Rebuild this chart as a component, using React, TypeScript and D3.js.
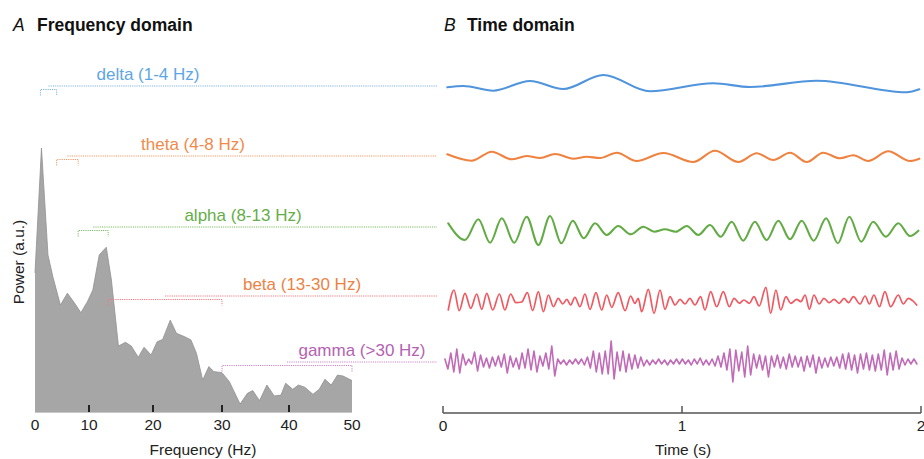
import React from "react";
import * as d3 from "d3";

// ---------- DATA ----------
const freqTicks = [0, 10, 20, 30, 40, 50];
const timeTicks = [0, 1, 2];

const spectrumFreq = [0, 1.2, 2.4, 3.3, 4.7, 6.0, 7.35, 8.5, 9.7, 10.6, 11.6, 12.7, 13.5, 14.6, 15.7, 16.6, 17.7, 18.6, 19.7, 20.6, 21.4, 22.5, 23.4, 24.6, 25.5, 26.3, 27.2, 28.1, 28.8, 30, 31.1, 32.7, 33.8, 34.6, 35.6, 36.7, 37.8, 38.8, 39.5, 40.6, 41.5, 42.5, 43.8, 44.8, 45.7, 46.7, 47.7, 48.6, 50];
const spectrumPower = [52.7, 100, 59.5, 51.3, 40.5, 45, 41.2, 37.6, 41.8, 46.2, 59.5, 62.4, 50, 25, 26.4, 25, 20.7, 24.5, 21.6, 26.6, 27.5, 34.8, 29.8, 28.5, 27.3, 22.2, 12.1, 17.2, 15.3, 14.9, 11.5, 3, 7.1, 8.1, 4.3, 10.2, 6.1, 6.4, 10.9, 8.6, 10.2, 9.4, 6.7, 8.6, 12.4, 10.2, 14, 13.6, 11.9];

const bandNames = ["delta", "theta", "alpha", "beta", "gamma"];
const bandLabels = ["delta (1-4 Hz)", "theta (4-8 Hz)", "alpha (8-13 Hz)", "beta (13-30 Hz)", "gamma (>30 Hz)"];
const bandLow = [1, 4, 8, 13, 30];
const bandHigh = [4, 8, 13, 30, 50];

const deltaT = [0.018, 0.085, 0.21, 0.364, 0.503, 0.671, 0.866, 1.131, 1.285, 1.564, 1.94, 1.993];
const deltaV = [-0.3, 1, -3.7, 6, -2, 12, -4.3, 3.7, 0, 6.3, -5.3, -2.3];

const thetaT = [0.018, 0.12, 0.204, 0.287, 0.35, 0.406, 0.469, 0.545, 0.601, 0.657, 0.727, 0.81, 0.922, 1.047, 1.138, 1.236, 1.313, 1.382, 1.452, 1.522, 1.591, 1.661, 1.717, 1.779, 1.863, 1.954, 1.993];
const thetaV = [1.7, -4.7, 4.3, -3.3, 0, -2, 2, -2.7, -0.7, -2, 3.3, -5, 3, -6, 5.3, -6, 2.7, -4, 3.3, -6, 3.3, -2.3, 0.7, -5, 4.7, -5, -2.7];

const alphaT = [0.022, 0.092, 0.148, 0.197, 0.246, 0.298, 0.35, 0.399, 0.448, 0.495, 0.543, 0.589, 0.636, 0.685, 0.733, 0.786, 0.838, 0.884, 0.929, 0.974, 1.02, 1.068, 1.117, 1.162, 1.208, 1.256, 1.305, 1.354, 1.403, 1.452, 1.501, 1.551, 1.603, 1.652, 1.7, 1.75, 1.8, 1.853, 1.905, 1.954, 1.989];
const alphaV = [6.7, -10, 10.7, -12.7, 11.7, -12.7, 13.3, -15, 14, -13.3, 9.3, -8.3, 6.7, -5, 4, -4.3, 3.3, -1.7, 0.7, -1.7, 4, -5, 5, -6.7, 8.3, -10.7, 8.3, -10, 9.3, -9.3, 9.3, -10.7, 11.7, -13.3, 13.3, -11.7, 8.3, -6.7, 6.7, -6, -0.7];

const betaT = [0.022, 0.046, 0.068, 0.092, 0.116, 0.141, 0.162, 0.183, 0.208, 0.236, 0.259, 0.283, 0.305, 0.329, 0.353, 0.375, 0.399, 0.42, 0.441, 0.462, 0.482, 0.501, 0.518, 0.534, 0.552, 0.573, 0.594, 0.615, 0.64, 0.664, 0.685, 0.706, 0.733, 0.762, 0.785, 0.803, 0.817, 0.831, 0.859, 0.883, 0.908, 0.929, 0.95, 0.971, 0.992, 1.013, 1.033, 1.054, 1.078, 1.096, 1.12, 1.145, 1.173, 1.198, 1.218, 1.24, 1.259, 1.282, 1.301, 1.323, 1.351, 1.371, 1.393, 1.413, 1.435, 1.455, 1.48, 1.497, 1.515, 1.533, 1.552, 1.574, 1.594, 1.616, 1.636, 1.658, 1.678, 1.697, 1.717, 1.745, 1.766, 1.784, 1.803, 1.826, 1.849, 1.873, 1.905, 1.926, 1.947, 1.965, 1.982];
const betaV = [-10, 10, -10.7, 6.7, -8.3, 6, -9.3, 6.7, -10, 6, -10, 6, -2.7, -2, 7.3, -10.7, 8.3, -11.7, 5, -6.7, 1.7, -4, 0.7, -5, 2.7, -6.7, 6, -9.3, 7.3, -10, 5, -7.3, 7.3, -10.7, 4, -3.3, 1.7, -11.7, 10.7, -13.3, 10, -9.3, 3.3, -5, 0.7, -4, 1.7, -5, 3.3, -10, 8.3, -6.7, 8.3, -6.7, 1.7, -3.3, 0, -3.3, 3.3, -6, 12.7, -13.3, 10, -10, 3.3, -3.3, 0.7, -1.7, 5, -9.3, 5, -4, 1.7, -2.7, 0.7, -3.3, 1.7, -2.7, 3.3, -4, 4, -4, 5, -6.7, 8.3, -6.7, 5, -4, 1.7, -0.7, -5];

// gamma: extrema sampled at a fixed interval starting at gammaT0
const gammaT0 = 0.008;
const gammaDt = 0.01242;
const gammaV = [
  3, -7, 9, -10, 13, -11, 8, -3, 3, -2,
  10, -9, 7, -5, 4, -6, 5, -4, 6, -5,
  8, -11, 6, -5, 4, -7, 9, -6, 13, -8,
  11, -10, 6, -4, 9, -7, 16, -14, 3, -2,
  2, -3, 2, -2, 3, -2, 3, -3, 5, -6,
  11, -10, 9, -12, 11, -12, 21, -17, 10, -9,
  11, -10, 8, -7, 7, -6, 5, -4, 2, -3,
  2, -2, 3, -2, 2, -3, 2, -2, 3, -2,
  3, -2, 2, -3, 3, -2, 4, -3, 2, -3,
  3, -4, 6, -5, 9, -8, 13, -20, 12, -9,
  10, -15, 16, -13, 8, -6, 7, -8, 6, -15,
  6, -5, 7, -6, 5, -7, 8, -5, 6, -5,
  5, -9, 6, -5, 7, -11, 5, -6, 4, -5,
  5, -4, 5, -6, 8, -7, 9, -8, 7, -11,
  8, -7, 9, -8, 7, -9, 8, -8, 12, -13,
  9, -8, 11, -7, 4, -3, 3, -2, 3, -2,
];

// ---------- STYLE / LAYOUT ----------
const W = 924;
const H = 459;
const FONT = "'Liberation Sans', Arial, Helvetica, sans-serif";
const signalColors = ["#4f94dc", "#f0823f", "#62ab45", "#ef5a62", "#c06ab8"];
const labelColors = ["#5ea6e3", "#f08a4a", "#66ad4a", "#ec8244", "#b462b2"];
const dotColors = ["#7fb3e3", "#f29a66", "#7dbb63", "#f27a80", "#cc86c6"];
const rowLineY = [86, 156, 227, 296, 362];
const rowSignalY = [87, 156, 230, 300, 362];
const labelX = [148, 193, 243, 302, 362];
const signalWidths = [2.1, 2.1, 2.1, 1.7, 1.6];

export default function App() {
  const x = d3.scaleLinear().domain(freqTicks).range([35, 89, 153, 222, 289, 352]);
  const y = d3.scaleLinear().domain([0, 100]).range([412, 148]);
  const t = d3.scaleLinear().domain([0, 2]).range([443, 921]);

  const spec = spectrumFreq.map((f, i) => [f, spectrumPower[i]] as [number, number]);
  const area = d3
    .area<[number, number]>()
    .x((d) => x(d[0]))
    .y0(y(0))
    .y1((d) => y(d[1]));
  const topLine = d3
    .line<[number, number]>()
    .x((d) => x(d[0]))
    .y((d) => y(d[1]));

  const gammaT = gammaV.map((_, i) => gammaT0 + i * gammaDt);
  const series: [number[], number[]][] = [
    [deltaT, deltaV],
    [thetaT, thetaV],
    [alphaT, alphaV],
    [betaT, betaV],
    [gammaT, gammaV],
  ];

  const paths = series.map(([ts, vs], i) => {
    const c = rowSignalY[i];
    const ys = d3.scaleLinear().domain([-20, 20]).range([c + 20, c - 20]);
    const gen = d3
      .line<number>()
      .x((_, k) => t(ts[k]))
      .y((v) => ys(v))
      .curve(i === 4 ? d3.curveLinear : d3.curveMonotoneX);
    return gen(vs) || "";
  });

  const lineEndX = 437;

  return (
    <svg
      width={W}
      height={H}
      style={{ position: "absolute", left: 0, top: 0, background: "#fff" }}
      fontFamily={FONT}
    >
      {/* titles */}
      <text x={13} y={31} fontSize={17.5} fontStyle="italic" fill="#111">A</text>
      <text x={37} y={31} fontSize={17.5} fontWeight="bold" fill="#111">Frequency domain</text>
      <text x={444} y={31} fontSize={17.5} fontStyle="italic" fill="#111">B</text>
      <text x={467} y={31} fontSize={17.5} fontWeight="bold" fill="#111">Time domain</text>

      {/* spectrum */}
      <path d={area(spec) || ""} fill="#a6a6a6" />
      <path d={topLine(spec) || ""} fill="none" stroke="#909090" strokeWidth={0.8} />
      <line x1={x(0)} x2={x(50)} y1={y(0) + 0.5} y2={y(0) + 0.5} stroke="#c8c8c8" strokeWidth={1} />
      {freqTicks
        .filter((f) => f > 0 && f < 50)
        .map((f) => (
          <line key={f} x1={x(f)} x2={x(f)} y1={y(0) - 7} y2={y(0)} stroke="#222" strokeWidth={2} />
        ))}
      {freqTicks.map((f) => (
        <text key={f} x={x(f)} y={430} fontSize={15.5} textAnchor="middle" fill="#222">
          {f}
        </text>
      ))}
      <text x={203} y={455} fontSize={15.5} textAnchor="middle" fill="#222">Frequency (Hz)</text>
      <text
        transform={`translate(24,262) rotate(-90)`}
        fontSize={15.5}
        textAnchor="middle"
        fill="#222"
      >
        Power (a.u.)
      </text>

      {/* band brackets, dotted guides and labels */}
      {bandNames.map((b, i) => {
        const x0 = x(bandLow[i]);
        const x1 = x(bandHigh[i]);
        const ly = rowLineY[i];
        const by = ly + 3.5;
        const dash = "1.2 1";
        return (
          <g key={b}>
            <path
              d={`M${x0},${by + 6}V${by}H${x1}V${by + 6}`}
              fill="none"
              stroke={dotColors[i]}
              strokeWidth={1}
              strokeDasharray={dash}
            />
            <line
              x1={(x0 + x1) / 2}
              x2={lineEndX}
              y1={ly}
              y2={ly}
              stroke={dotColors[i]}
              strokeWidth={1}
              strokeDasharray={dash}
            />
            <text x={labelX[i]} y={ly - 6} fontSize={17} textAnchor="middle" fill={labelColors[i]}>
              {bandLabels[i]}
            </text>
          </g>
        );
      })}

      {/* time-domain signals */}
      {paths.map((d, i) => (
        <path
          key={bandNames[i]}
          d={d}
          fill="none"
          stroke={signalColors[i]}
          strokeWidth={signalWidths[i]}
          strokeLinejoin="round"
          strokeLinecap="round"
        />
      ))}

      {/* time axis */}
      <line x1={t(0)} x2={t(2)} y1={413} y2={413} stroke="#555" strokeWidth={1.5} />
      {timeTicks.map((v) => (
        <g key={v}>
          <line x1={t(v)} x2={t(v)} y1={406} y2={413} stroke="#555" strokeWidth={1.5} />
          <text x={t(v)} y={431} fontSize={15.5} textAnchor="middle" fill="#222">
            {v}
          </text>
        </g>
      ))}
      <text x={683} y={455} fontSize={15.5} textAnchor="middle" fill="#222">Time (s)</text>
    </svg>
  );
}
